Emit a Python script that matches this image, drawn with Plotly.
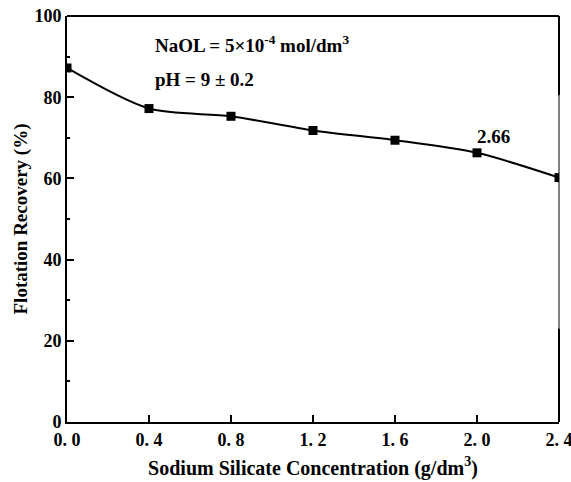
import plotly.graph_objects as go

conc = [0.0, 0.4, 0.8, 1.2, 1.6, 2.0, 2.4]
recovery = [87.2, 77.2, 75.3, 71.8, 69.4, 66.3, 60.2]
x_tickvals = [0.0, 0.4, 0.8, 1.2, 1.6, 2.0, 2.4]
x_ticktext = ["0. 0", "0. 4", "0. 8", "1. 2", "1. 6", "2. 0", "2. 4"]
y_tickvals = [0, 20, 40, 60, 80, 100]

FONT = "Liberation Serif"

fig = go.Figure()
fig.add_trace(go.Scatter(
    x=conc, y=recovery, mode="lines+markers",
    line=dict(color="black", width=2, shape="spline", smoothing=0.8),
    marker=dict(symbol="square", size=9, color="black"),
    showlegend=False,
))

fig.update_layout(
    width=571, height=482,
    margin=dict(l=67, r=12, t=16, b=60),
    paper_bgcolor="white", plot_bgcolor="white",
    font=dict(family=FONT, color="black", size=15),
    xaxis=dict(
        range=[0, 2.4], tickvals=x_tickvals, ticktext=x_ticktext,
        ticks="inside", ticklen=7, tickwidth=2, tickcolor="black",
        showline=True, linecolor="black", linewidth=2, mirror=False,
        showgrid=False, zeroline=False, ticklabeloverflow="allow",
        automargin=False,
        tickfont=dict(family=FONT, size=18, weight="bold"),
        title=dict(text="<b>Sodium Silicate Concentration (g/dm<sup>3</sup>)</b>",
                   font=dict(family=FONT, size=20), standoff=12),
    ),
    yaxis=dict(
        range=[0, 100], tickvals=y_tickvals,
        ticks="inside", ticklen=7, tickwidth=2, tickcolor="black",
        minor=dict(ticks="inside", ticklen=3, tickwidth=1.5, tickcolor="black", dtick=10),
        showline=True, linecolor="black", linewidth=2,
        showgrid=False, zeroline=False, ticklabeloverflow="allow",
        automargin=False,
        tickfont=dict(family=FONT, size=18, weight="bold"),
        title=dict(text="<b>Flotation Recovery (%)</b>",
                   font=dict(family=FONT, size=19), standoff=2),
    ),
)

# frame: top line and right line (thick at ends, thin in middle as in reference)
fig.add_shape(type="line", xref="paper", yref="paper", x0=0, x1=1, y0=1, y1=1,
              line=dict(color="black", width=2))
fig.add_shape(type="line", xref="paper", yref="y", x0=1, x1=1, y0=80.5, y1=100,
              line=dict(color="black", width=2))
fig.add_shape(type="line", xref="paper", yref="y", x0=1, x1=1, y0=23, y1=80.5,
              line=dict(color="black", width=1))
fig.add_shape(type="line", xref="paper", yref="y", x0=1, x1=1, y0=0, y1=23,
              line=dict(color="black", width=2))

fig.add_annotation(x=0.42, y=93.2, xref="x", yref="y", xanchor="left",
                   text="<b>NaOL = 5×10<sup>-4</sup> mol/dm<sup>3</sup></b>",
                   showarrow=False, font=dict(family=FONT, size=19))
fig.add_annotation(x=0.42, y=84.3, xref="x", yref="y", xanchor="left",
                   text="<b>pH = 9 ± 0.2</b>",
                   showarrow=False, font=dict(family=FONT, size=19))
fig.add_annotation(x=2.08, y=70.3, xref="x", yref="y", xanchor="center",
                   text="<b>2.66</b>",
                   showarrow=False, font=dict(family=FONT, size=19))

fig.write_html("out.html")
